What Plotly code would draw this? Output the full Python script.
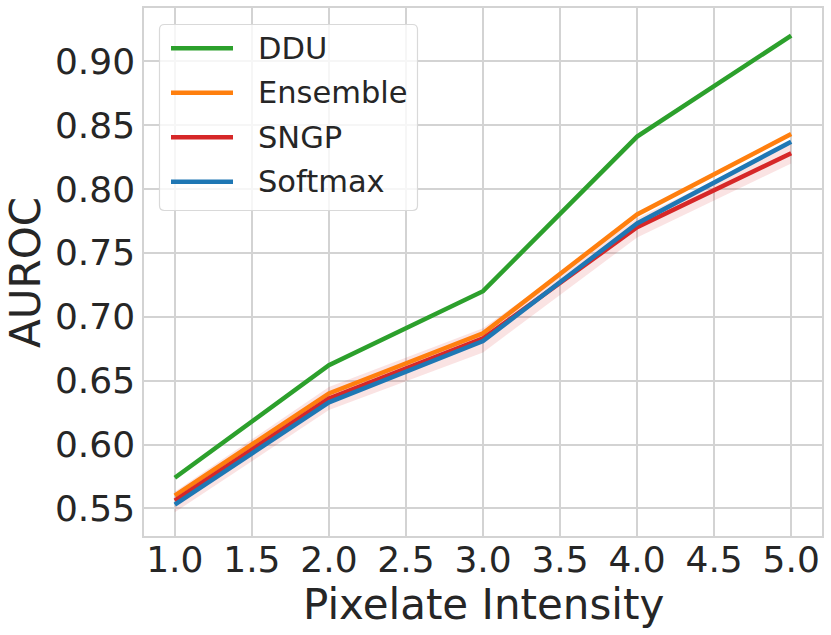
import plotly.graph_objects as go

# --- data --------------------------------------------------------------------
intensity = [1.0, 2.0, 3.0, 4.0, 5.0]
ddu = [0.574, 0.662, 0.720, 0.841, 0.920]
ensemble = [0.560, 0.640, 0.687, 0.780, 0.843]
sngp = [0.556, 0.636, 0.683, 0.770, 0.828]
softmax = [0.553, 0.633, 0.681, 0.773, 0.837]
sngp_lo = [0.547, 0.627, 0.672, 0.762, 0.820]
sngp_hi = [0.563, 0.645, 0.691, 0.777, 0.836]
method_names = ["DDU", "Ensemble", "SNGP", "Softmax"]
method_colors = ["#2ca02c", "#ff7f0e", "#d62728", "#1f77b4"]

INK = "#262626"
GRID = "#d3d3d3"
FONT = "DejaVu Sans"

# plot area in pixels (fixed margins), used to place the hand-made legend
W, H = 831, 635
L, R, T, B = 144, 9, 8, 99
PW, PH = W - L - R, H - T - B


def px_x(x):
    return (x - L) / PW


def px_y(y):
    return 1 - (y - T) / PH


fig = go.Figure()

# SNGP spread band
fig.add_trace(go.Scatter(x=intensity, y=sngp_lo, mode="lines", line=dict(width=0),
                         showlegend=False, hoverinfo="skip"))
fig.add_trace(go.Scatter(x=intensity, y=sngp_hi, mode="lines", line=dict(width=0),
                         fill="tonexty", fillcolor="rgba(214,39,40,0.13)",
                         showlegend=False, hoverinfo="skip"))

for name, vals, col in zip(method_names, [ddu, ensemble, sngp, softmax], method_colors):
    fig.add_trace(go.Scatter(x=intensity, y=vals, mode="lines", name=name,
                             line=dict(color=col, width=4.5), showlegend=False))

# legend box (matplotlib style: rounded, light border, slightly see-through)
x0, x1, y0, y1 = px_x(159.5), px_x(417.5), px_y(210.5), px_y(24.5)
rx, ry = 5 / PW, 5 / PH
path = (f"M {x0+rx},{y0} L {x1-rx},{y0} Q {x1},{y0} {x1},{y0+ry} "
        f"L {x1},{y1-ry} Q {x1},{y1} {x1-rx},{y1} L {x0+rx},{y1} "
        f"Q {x0},{y1} {x0},{y1-ry} L {x0},{y0+ry} Q {x0},{y0} {x0+rx},{y0} Z")
fig.add_shape(type="path", path=path, xref="paper", yref="paper", layer="above",
              fillcolor="rgba(255,255,255,0.8)", line=dict(color="#d9d9d9", width=1.2))
for i, (name, col) in enumerate(zip(method_names, method_colors)):
    yy = px_y(48.3 + i * 44.5)
    fig.add_shape(type="line", xref="paper", yref="paper", layer="above",
                  x0=px_x(171), x1=px_x(233), y0=yy, y1=yy,
                  line=dict(color=col, width=4.5))
    fig.add_annotation(xref="paper", yref="paper", x=px_x(256), y=yy, text=name,
                       showarrow=False, xanchor="left", yanchor="middle",
                       font=dict(size=30.5, color=INK))

fig.update_layout(
    width=W, height=H,
    margin=dict(l=L, r=R, t=T, b=B),
    paper_bgcolor="white", plot_bgcolor="white",
    font=dict(family=FONT, color=INK),
    showlegend=False,
)
fig.update_xaxes(range=[0.8, 5.2], dtick=0.5, tickformat=".1f", automargin=False,
                 showgrid=True, gridcolor=GRID, gridwidth=1.5,
                 showline=True, linecolor=GRID, linewidth=1.5, mirror=True,
                 zeroline=False, ticks="", ticklabelstandoff=-9,
                 tickfont=dict(size=36, color=INK))
fig.update_yaxes(range=[0.5284, 0.9416], tickvals=[0.55, 0.60, 0.65, 0.70, 0.75, 0.80, 0.85, 0.90],
                 tickformat=".2f", automargin=False,
                 showgrid=True, gridcolor=GRID, gridwidth=1.5,
                 showline=True, linecolor=GRID, linewidth=1.5, mirror=True,
                 zeroline=False, ticks="", ticklabelstandoff=0,
                 tickfont=dict(size=36, color=INK))

# axis titles
fig.add_annotation(xref="paper", yref="paper", x=px_x(25.5), y=px_y(272.5), text="AUROC",
                   textangle=-90, showarrow=False, xanchor="center", yanchor="middle",
                   font=dict(size=42, color=INK))
fig.add_annotation(xref="paper", yref="paper", x=0.5, y=px_y(604), text="Pixelate Intensity",
                   showarrow=False, xanchor="center", yanchor="middle",
                   font=dict(size=42, color=INK))

# page body margin would shift the fixed-size figure off the 831x635 frame
fig.write_html("out.html", config={"displayModeBar": False},
               post_script="document.body.style.margin='0';")
